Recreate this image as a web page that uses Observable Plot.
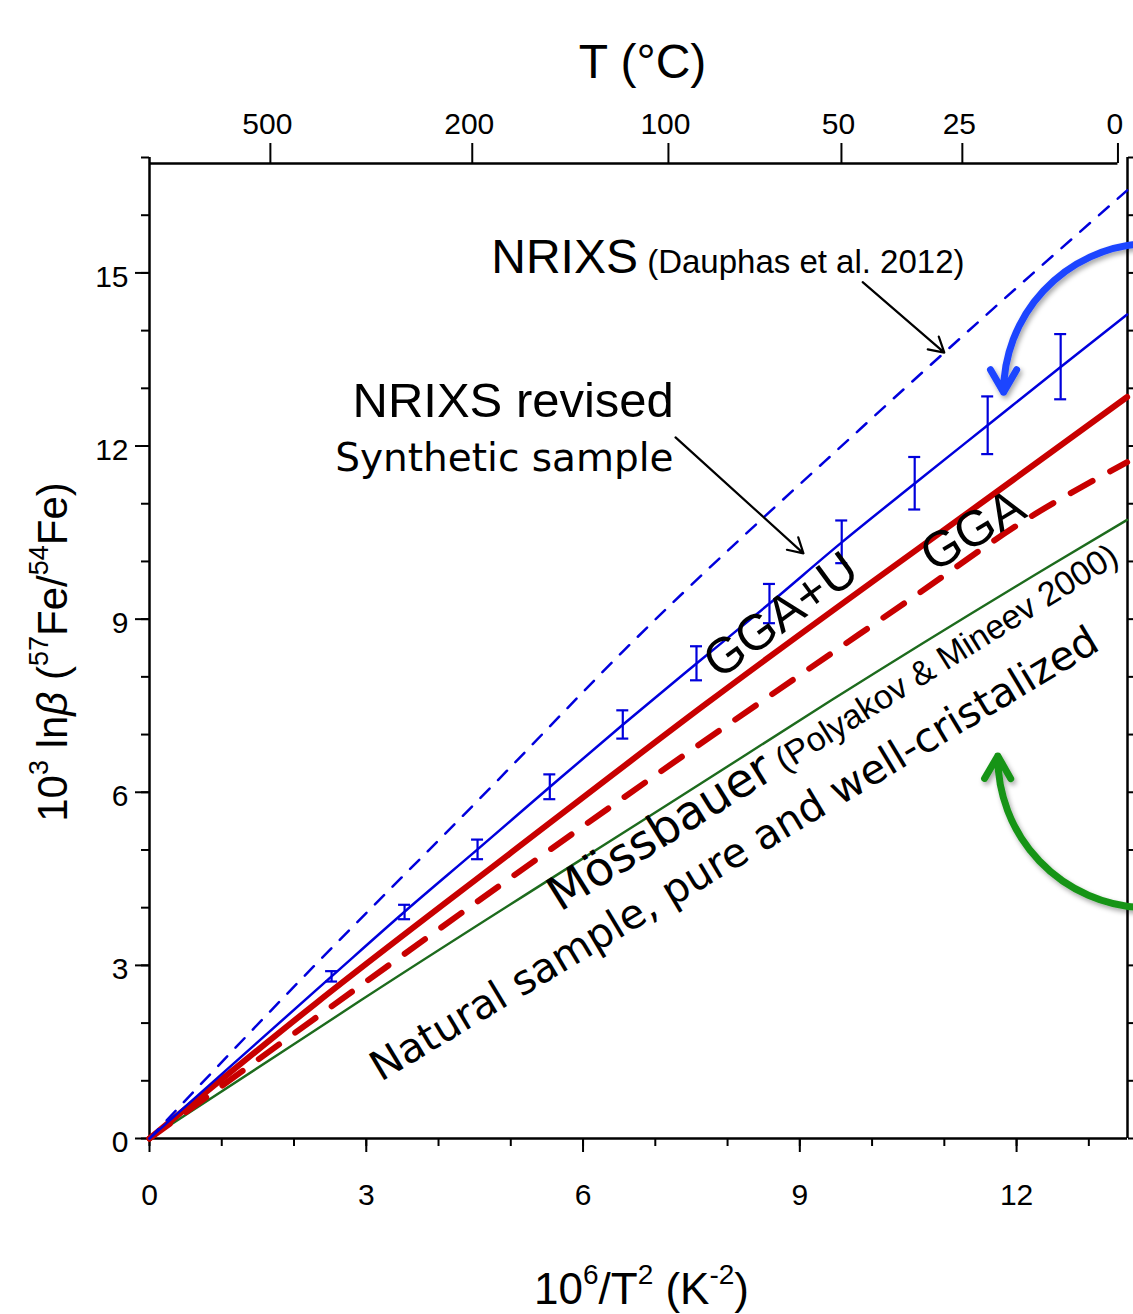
<!DOCTYPE html>
<html>
<head>
<meta charset="utf-8">
<script src="https://cdn.jsdelivr.net/npm/d3@7"></script>
<script src="https://cdn.jsdelivr.net/npm/@observablehq/plot@0.6"></script>
<style>
  html, body { margin: 0; padding: 0; background: #fff; overflow: hidden; }
  #chart svg { display: block; }
</style>
</head>
<body>
<div id="chart"></div>
<script>
// ---------------- data ----------------
// x = 10^6/T^2 (K^-2), y = 10^3 ln beta (57Fe/54Fe)
const nrixsX   = [0, 1.86, 4.79, 6.56, 9.84, 11.73, 13.53];
const nrixsY   = [0, 2.45, 6.17, 8.45, 12.30, 14.44, 16.43];

const revisedX = [0, 2.52, 3.53, 4.54, 5.54, 6.55, 7.57, 8.58, 9.58, 10.59, 11.60, 12.61, 13.53];
const revisedY = [0, 2.81, 3.93, 5.01, 6.09, 7.17, 8.23, 9.27, 10.33, 11.35, 12.36, 13.37, 14.28];

const errX  = [2.52, 3.53, 4.54, 5.54, 6.55, 7.57, 8.58, 9.58, 10.59, 11.60, 12.61];
const errLo = [2.72, 3.80, 4.84, 5.88, 6.93, 7.94, 8.93, 9.97, 10.90, 11.86, 12.81];
const errHi = [2.90, 4.05, 5.18, 6.31, 7.42, 8.53, 9.61, 10.71, 11.81, 12.86, 13.94];

const ggauX = [0, 2.32, 4.97, 7.70, 11.96, 13.53];
const ggauY = [0, 2.36, 4.92, 7.53, 11.42, 12.85];

const ggaX  = [0, 2.92, 7.03, 10.58, 12.15, 13.53];
const ggaY  = [0, 2.65, 6.32, 9.39, 10.74, 11.72];

const mossX = [0, 1.86, 2.92, 7.63, 9.43, 12.47, 13.53];
const mossY = [0, 1.52, 2.39, 6.15, 7.59, 9.93, 10.72];

// axis ticks
const xMajor = [0, 3, 6, 9, 12];
const xMinor = d3.range(0, 14);
const yMajor = [0, 3, 6, 9, 12, 15];
const yMinor = d3.range(0, 18);
const topTempC = [500, 200, 100, 50, 25, 0];

// text
const titleTop = "T (°C)";
const xTitle = "10⁶/T² (K⁻²)";
const yTitle = "10³ lnβ (⁵⁷Fe/⁵⁴Fe)";
const labNrixs = "NRIXS (Dauphas et al. 2012)";
const labRevised = "NRIXS revised";
const labSynthetic = "Synthetic sample";
const labGgau = "GGA+U";
const labGga = "GGA";
const labMoss = "Mössbauer (Polyakov & Mineev 2000)";
const labNatural = "Natural sample, pure and well-cristalized";

// annotation anchors (data units)
const annX = {nrixs: 4.73, revised: 2.81, synthetic: 2.57, ggau: 7.88, gga: 10.85, moss: 5.68, natural: 3.20};
const annY = {nrixs: 14.99, revised: 12.50, synthetic: 11.56, ggau: 7.94, gga: 9.80, moss: 3.92, natural: 0.98};

// arrows (data units): start -> tip
const arrowNrixs   = {x1: 9.87, y1: 14.84, x2: 11.00, y2: 13.62};
const arrowRevised = {x1: 7.28, y1: 12.15, x2: 9.05, y2: 10.14};
const arrowBlue    = {x1: 13.74, y1: 15.51, x2: 11.82, y2: 12.93};
const arrowGreen   = {x1: 13.74, y1: 4.00, x2: 11.74, y2: 6.63};

// ---------------- build ----------------
const X_MAX = 13.535, Y_MAX = 17;
const BLUE = "#0000dc", RED = "#c80000", GREEN = "#1d6b1d";
const BLUE_ARROW = "#1f45ff", GREEN_ARROW = "#189418";
const SANS = "'Liberation Sans', Arial, Helvetica, sans-serif";
const DEJAVU = "'DejaVu Sans', Verdana, sans-serif";

const pts = (xs, ys) => xs.map((x, i) => ({x, y: ys[i]}));
const errs = errX.map((x, i) => ({x, lo: errLo[i], hi: errHi[i]}));
const xOfT = (t) => 1e6 / ((t + 273.15) ** 2);

const plot = Plot.plot({
  width: 1133,
  height: 1314,
  marginLeft: 149,
  marginRight: 6,
  marginTop: 157,
  marginBottom: 176,
  style: {fontFamily: SANS, fontSize: "30px", color: "black", background: "white", overflow: "hidden"},
  x: {domain: [0, X_MAX], axis: null},
  y: {domain: [0, Y_MAX], axis: null},
  marks: [
    // axes ticks
    Plot.axisX({ticks: xMinor, tickSize: 8, tickFormat: () => "", label: null, strokeWidth: 2}),
    Plot.axisX({ticks: xMajor, tickSize: 14, tickFormat: () => "", label: null, strokeWidth: 2}),
    Plot.axisY({anchor: "left", ticks: yMinor, tickSize: 8, tickFormat: () => "", label: null, strokeWidth: 2}),
    Plot.axisY({anchor: "left", ticks: yMajor, tickSize: 14, tickFormat: () => "", label: null, strokeWidth: 2}),
    Plot.axisY({anchor: "right", ticks: yMinor, tickSize: 8, tickFormat: () => "", label: null, strokeWidth: 2}),
    Plot.text(xMajor, {x: d => d, text: d => String(d), frameAnchor: "bottom", textAnchor: "middle", lineAnchor: "top", dy: 45, fontSize: 30}),
    Plot.text(yMajor, {y: d => d, text: d => String(d), frameAnchor: "left", textAnchor: "end", dx: -21, dy: 4, fontSize: 30}),
    // frame (left, right, bottom)
    Plot.ruleX([0, X_MAX], {stroke: "black", strokeWidth: 2.5}),
    Plot.ruleY([0], {stroke: "black", strokeWidth: 2.5}),
    // top temperature axis
    Plot.ruleY([Y_MAX], {x1: 0, x2: xOfT(0), dy: 6, stroke: "black", strokeWidth: 2.5}),
    Plot.ruleX(topTempC, {x: xOfT, y1: Y_MAX, y2: Y_MAX, insetTop: -20, dy: 6, stroke: "black", strokeWidth: 2}),
    Plot.text(topTempC, {x: xOfT, text: d => String(d), frameAnchor: "top", textAnchor: "middle", lineAnchor: "bottom", dx: -3, dy: -24, fontSize: 30}),
    // curves
    Plot.line(pts(mossX, mossY), {x: "x", y: "y", stroke: GREEN, strokeWidth: 2.4, curve: "monotone-x"}),
    Plot.line(pts(ggaX, ggaY), {x: "x", y: "y", stroke: RED, strokeWidth: 6, strokeDasharray: "25,20", curve: "monotone-x"}),
    Plot.line(pts(ggauX, ggauY), {x: "x", y: "y", stroke: RED, strokeWidth: 6, curve: "monotone-x"}),
    Plot.line(pts(nrixsX, nrixsY), {x: "x", y: "y", stroke: BLUE, strokeWidth: 2.5, strokeDasharray: "13,12", curve: "monotone-x"}),
    Plot.line(pts(revisedX, revisedY), {x: "x", y: "y", stroke: BLUE, strokeWidth: 2.5, curve: "monotone-x"}),
    // error bars
    Plot.ruleX(errs, {x: "x", y1: "lo", y2: "hi", stroke: BLUE, strokeWidth: 2.2}),
    Plot.ruleY(errs, {y: "lo", x1: "x", x2: "x", insetLeft: -6, insetRight: -6, stroke: BLUE, strokeWidth: 2.2}),
    Plot.ruleY(errs, {y: "hi", x1: "x", x2: "x", insetLeft: -6, insetRight: -6, stroke: BLUE, strokeWidth: 2.2}),
    // arrows
    Plot.arrow([arrowNrixs, arrowRevised], {x1: "x1", y1: "y1", x2: "x2", y2: "y2", stroke: "black", strokeWidth: 2.2, headLength: 11.5}),
    Plot.arrow([arrowBlue], {x1: "x1", y1: "y1", x2: "x2", y2: "y2", bend: -43, stroke: BLUE_ARROW, strokeWidth: 7, headLength: 5.6, className: "bigarrow"}),
    Plot.arrow([arrowGreen], {x1: "x1", y1: "y1", x2: "x2", y2: "y2", bend: 44, stroke: GREEN_ARROW, strokeWidth: 7, headLength: 5.6, className: "bigarrow"}),
    // annotations
    Plot.text([labNrixs], {x: annX.nrixs, y: annY.nrixs, textAnchor: "start", lineAnchor: "bottom", fontSize: 48, className: "ann-nrixs"}),
    Plot.text([labRevised], {x: annX.revised, y: annY.revised, textAnchor: "start", lineAnchor: "bottom", fontSize: 49}),
    Plot.text([labSynthetic], {x: annX.synthetic, y: annY.synthetic, textAnchor: "start", lineAnchor: "bottom", fontSize: 39, fontFamily: DEJAVU}),
    Plot.text([labGgau], {x: annX.ggau, y: annY.ggau, textAnchor: "start", lineAnchor: "bottom", fontSize: 50, rotate: -36}),
    Plot.text([labGga], {x: annX.gga, y: annY.gga, textAnchor: "start", lineAnchor: "bottom", fontSize: 50, rotate: -31}),
    Plot.text([labMoss], {x: annX.moss, y: annY.moss, textAnchor: "start", lineAnchor: "bottom", fontSize: 46, rotate: -32, className: "ann-moss"}),
    Plot.text([labNatural], {x: annX.natural, y: annY.natural, textAnchor: "start", lineAnchor: "bottom", fontSize: 41, fontFamily: DEJAVU, rotate: -31}),
    // axis titles
    Plot.text([titleTop], {frameAnchor: "top", textAnchor: "middle", lineAnchor: "bottom", dx: 4, dy: -80, fontSize: 48}),
    Plot.text([xTitle], {frameAnchor: "bottom", textAnchor: "middle", lineAnchor: "bottom", dx: 3, dy: 165, fontSize: 44, className: "xtitle"}),
    Plot.text([yTitle], {frameAnchor: "left", textAnchor: "middle", lineAnchor: "bottom", rotate: -90, dx: -83, dy: 4, fontSize: 42, className: "ytitle"})
  ]
});

// rich text (superscripts, mixed sizes)
function richify(svg, cls, parts) {
  d3.select(svg).selectAll(`.${cls} text`).each(function () {
    const t = d3.select(this);
    t.text(null);
    let cur = 0;
    for (const p of parts) {
      const s = t.append("tspan").text(p.t);
      const rise = p.rise || 0;
      if (rise !== cur) { s.attr("dy", -(rise - cur)); cur = rise; }
      if (p.size) s.attr("font-size", p.size);
      if (p.family) s.attr("font-family", p.family);
      if (p.italic) s.attr("font-style", "italic");
    }
  });
}
richify(plot, "ann-nrixs", [{t: "NRIXS", size: 48}, {t: " (Dauphas et al. 2012)", size: 33}]);
richify(plot, "ann-moss", [{t: "Mössbauer", size: 47, family: DEJAVU}, {t: " (Polyakov & Mineev 2000)", size: 34, family: SANS}]);
richify(plot, "xtitle", [
  {t: "10"}, {t: "6", rise: 20, size: 28}, {t: "/T"}, {t: "2", rise: 20, size: 28},
  {t: " (K"}, {t: "-2", rise: 20, size: 28}, {t: ")"}
]);
richify(plot, "ytitle", [
  {t: "10"}, {t: "3", rise: 19, size: 27}, {t: " ln"}, {t: "β", italic: true}, {t: " ("},
  {t: "57", rise: 19, size: 27}, {t: "Fe/"}, {t: "54", rise: 19, size: 27}, {t: "Fe)"}
]);

// soft shadow on the curved arrows
const svgSel = d3.select(plot);
const defs = svgSel.insert("defs", ":first-child");
const filt = defs.append("filter").attr("id", "arrowShadow")
  .attr("x", "-20%").attr("y", "-20%").attr("width", "140%").attr("height", "140%");
filt.append("feDropShadow").attr("dx", 2).attr("dy", 3).attr("stdDeviation", 2.5)
  .attr("flood-color", "#000").attr("flood-opacity", 0.35);
svgSel.selectAll(".bigarrow").attr("filter", "url(#arrowShadow)");

document.getElementById("chart").appendChild(plot);
</script>
</body>
</html>
